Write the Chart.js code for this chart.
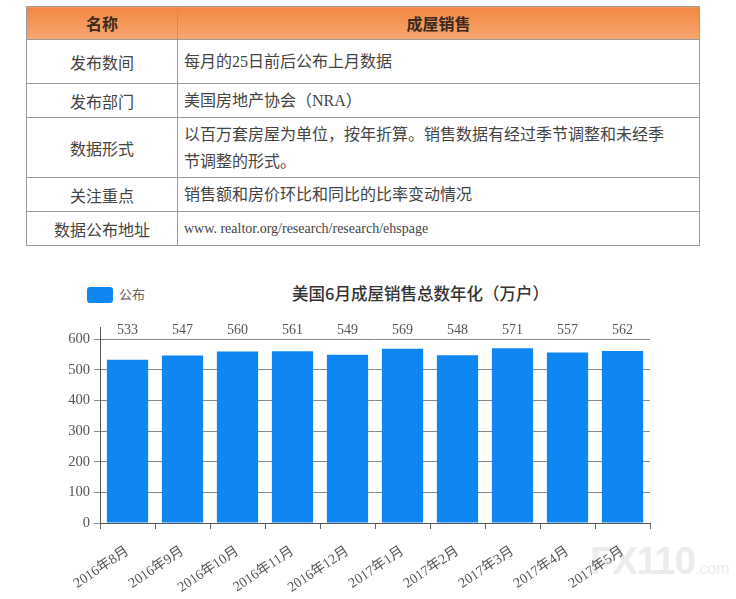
<!DOCTYPE html>
<html>
<head>
<meta charset="utf-8">
<script src="https://cdn.jsdelivr.net/npm/chart.js@4/dist/chart.umd.min.js"></script>
<style>
  body { margin: 0; width: 736px; height: 599px; background: #fff; position: relative; overflow: hidden; }
  #info { position: absolute; left: 26px; top: 6px; width: 674px; border-collapse: collapse;
          font-family: "Liberation Serif", "Noto Sans CJK SC", serif; font-size: 16px; color: #444; }
  #info td, #info th { border: 1px solid #9a9a9a; padding: 0 6px; white-space: nowrap; }
  #info th { height: 32px; background: linear-gradient(#f38742, #f7a772); font-family: "Noto Sans CJK SC", sans-serif;
             font-weight: 700; font-size: 16px; color: #3a2a20; }
  #info td:first-child { width: 138px; text-align: center; }
  #info td + td { padding-left: 6px; line-height: 27px; }
  #title { position: absolute; left: 292px; top: 281px; font-family: "Noto Sans CJK SC", sans-serif;
           font-size: 16.5px; font-weight: 500; color: #333; }
  #legend { position: absolute; left: 87px; top: 284px; font-family: "Noto Sans CJK SC", serif; font-size: 13px; color: #666; }
  #legend span.box { display: inline-block; width: 26px; height: 16px; border-radius: 3px; background: #0f86f2;
                     vertical-align: middle; margin-right: 6px; }
  #mark { position: absolute; left: 590px; top: 540px; font-family: "Liberation Sans", sans-serif; color: #ececec;
          font-weight: 700; font-size: 38px; letter-spacing: -1px; }
  #mark small { font-size: 16px; font-weight: 400; letter-spacing: 0; }
  #chart { position: absolute; left: 0; top: 265px; }
</style>
</head>
<body>
<table id="info">
  <tr><th>名称</th><th>成屋销售</th></tr>
  <tr style="height:44px"><td>发布数间</td><td>每月的25日前后公布上月数据</td></tr>
  <tr style="height:34px"><td>发布部门</td><td>美国房地产协会（NRA）</td></tr>
  <tr style="height:60px"><td>数据形式</td><td>以百万套房屋为单位，按年折算。销售数据有经过季节调整和未经季<br>节调整的形式。</td></tr>
  <tr style="height:34px"><td>关注重点</td><td>销售额和房价环比和同比的比率变动情况</td></tr>
  <tr style="height:34px"><td>数据公布地址</td><td style="font-size:14px">www. realtor.org/research/research/ehspage</td></tr>
</table>
<div id="mark">FX110<small>.com</small></div>
<div id="legend"><span class="box"></span>公布</div>
<div id="title">美国6月成屋销售总数年化（万户）</div>
<canvas id="chart" width="736" height="334"></canvas>
<script>
const months = ['2016年8月', '2016年9月', '2016年10月', '2016年11月', '2016年12月',
                '2017年1月', '2017年2月', '2017年3月', '2017年4月', '2017年5月'];
const sales = [533, 547, 560, 561, 549, 569, 548, 571, 557, 562];
const yTicks = [0, 100, 200, 300, 400, 500, 600];

const serif = '"Liberation Serif", "Noto Sans CJK SC", serif';

// values printed in one row just above the 600 line
const topLabels = {
    id: 'topLabels',
    afterDatasetsDraw(chart) {
        const ctx = chart.ctx;
        const y = chart.scales.y.getPixelForValue(600) - 2;
        ctx.save();
        ctx.font = '14px ' + serif;
        ctx.fillStyle = '#555';
        ctx.textAlign = 'center';
        ctx.textBaseline = 'bottom';
        chart.getDatasetMeta(0).data.forEach((bar, i) => {
            ctx.fillText(String(sales[i]), bar.x, y);
        });
        ctx.restore();
    }
};

new Chart(document.getElementById('chart'), {
    type: 'bar',
    data: {
        labels: months,
        datasets: [{
            label: '公布',
            data: sales,
            backgroundColor: '#0f86f2',
            categoryPercentage: 1,
            barPercentage: 0.75
        }]
    },
    options: {
        responsive: false,
        animation: false,
        layout: { padding: { top: 62, right: 86, left: 0, bottom: 0 } },
        plugins: { legend: { display: false }, tooltip: { enabled: false } },
        scales: {
            x: {
                afterFit: (axis) => { axis.height = 76; },
                grid: { drawOnChartArea: false, tickLength: 6, color: '#666' },
                border: { color: '#555' },
                ticks: { minRotation: 34, maxRotation: 34, padding: 14, color: '#555', font: { family: serif, size: 14 } }
            },
            y: {
                min: 0,
                max: 640,
                afterFit: (axis) => { axis.width = 100; },
                afterBuildTicks: (axis) => { axis.ticks = yTicks.map(v => ({ value: v })); },
                grid: { color: '#8a8a8a', tickLength: 6 },
                border: { color: '#555' },
                ticks: { padding: 4, color: '#555', font: { family: serif, size: 14.5 } }
            }
        }
    },
    plugins: [topLabels]
});
</script>
</body>
</html>
